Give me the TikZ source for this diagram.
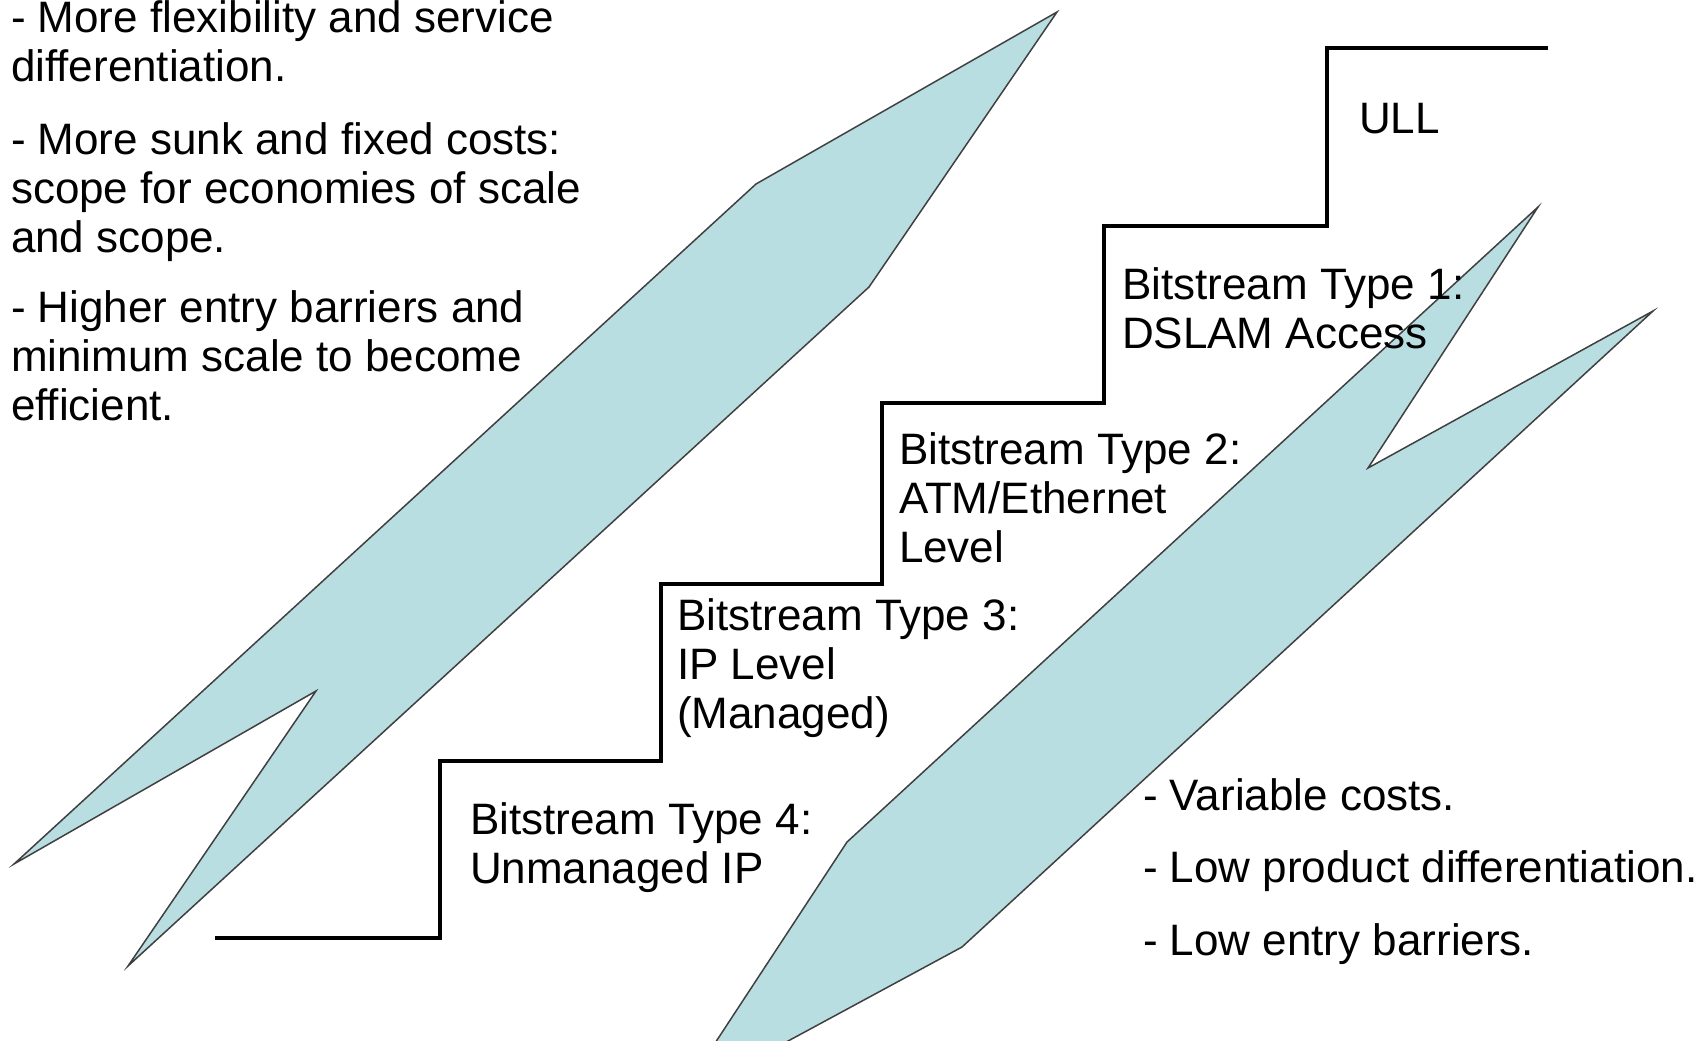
\documentclass[tikz,border=0pt]{standalone}
\usepackage{fontspec}
\setmainfont{Liberation Sans}
\usetikzlibrary{positioning}
\definecolor{bandfill}{RGB}{185,222,226}
\definecolor{bandline}{RGB}{64,64,64}

\begin{document}
\begin{tikzpicture}
[x=0.5pt,y=-0.5pt,
 every node/.style={inner sep=0pt,outer sep=0pt,anchor=base west,align=left,font=\fontsize{22}{24.5}\selectfont},
 band/.style={fill=bandfill,draw=bandline,line width=0.75pt,line join=miter},
 stair/.style={draw=black,line width=2pt,line join=miter}]
\useasboundingbox (0,0) rectangle (1700,1040);

% the two bands
\path[band] (1057,12) -- (869,287) -- (128,966) -- (316,691) -- (14,864) -- (756,184) -- cycle;
\begin{scope}
\clip (0,0) rectangle (1700,1040);
\path[band] (1538,207) -- (1368,468) -- (1653,311) -- (962,947) -- (677,1101) -- (847,842) -- cycle;
\end{scope}

% the ladder
\draw[stair] (215,938) -- (440,938) -- (440,761) -- (661,761) -- (661,584) -- (882,584)
  -- (882,403) -- (1104,403) -- (1104,226) -- (1327,226) -- (1327,48) -- (1548,48);

% rungs (placed at the baseline of their last line)
\node (ull) at (1359,133) {ULL};
\node (bs1) at (1122,348) {Bitstream Type 1:\\DSLAM Access};
\node (bs2) at (899,562)  {Bitstream Type 2:\\ATM/Ethernet\\Level};
\node (bs3) at (677,728)  {Bitstream Type 3:\\IP Level\\(Managed)};
\node (bs4) at (470,883)  {Bitstream Type 4:\\Unmanaged IP};

% left notes
\node (flex)    at (11,81)  {- More flexibility and service\\differentiation.};
\node (sunk)    at (11,252) {- More sunk and fixed costs:\\scope for economies of scale\\and scope.};
\node (barrier) at (11,420) {- Higher entry barriers and\\minimum scale to become\\efficient.};

% right notes
\node (varcost)  at (1143,810) {- Variable costs.};
\node (lowdiff)  at (1143,882) {- Low product differentiation.};
\node (lowentry) at (1143,955) {- Low entry barriers.};
\end{tikzpicture}
\end{document}
